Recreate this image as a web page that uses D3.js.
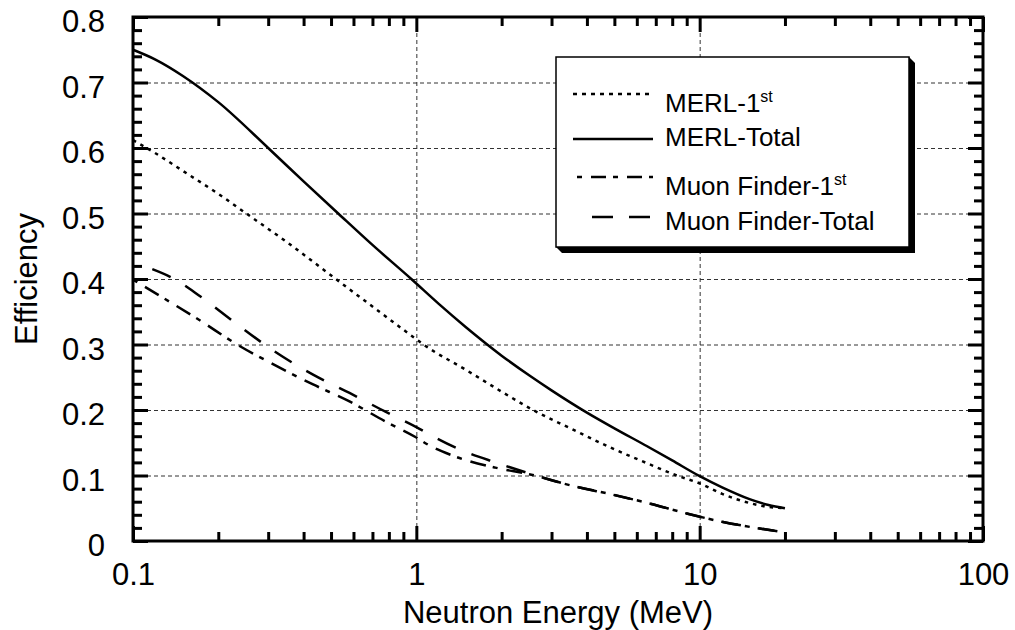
<!DOCTYPE html>
<html>
<head>
<meta charset="utf-8">
<script src="https://cdn.jsdelivr.net/npm/d3@7"></script>
<style>
    body { margin: 0; background: #fff; }
    text { font-family: "Liberation Sans", Arial, Helvetica, sans-serif; fill: #000; }
</style>
</head>
<body>
<div id="chart"></div>
<script>
// tick labels
var xTickValues = [0.1, 1, 10, 100];
var xTickLabels = ["0.1", "1", "10", "100"];
var yTickValues = [0, 0.1, 0.2, 0.3, 0.4, 0.5, 0.6, 0.7, 0.8];
var yTickLabels = ["0", "0.1", "0.2", "0.3", "0.4", "0.5", "0.6", "0.7", "0.8"];

// series (energy in MeV, efficiency)
var merlFirstEnergy = [0.1, 0.12, 0.15, 0.2, 0.251, 0.35, 0.52, 0.7, 1.0, 1.06, 1.5, 2.0, 2.58, 3.5, 5, 6.5, 8.3, 10, 12, 15, 17.5, 20];
var merlFirstEff    = [0.612, 0.592, 0.565, 0.530, 0.500, 0.456, 0.400, 0.358, 0.308, 0.300, 0.261, 0.228, 0.200, 0.172, 0.140, 0.119, 0.100, 0.088, 0.072, 0.058, 0.052, 0.050];

var merlTotalEnergy = [0.1, 0.12, 0.15, 0.2, 0.3, 0.4, 0.53, 0.7, 0.96, 1.2, 1.5, 2.0, 2.5, 3.0, 4.0, 5.0, 6.5, 8.0, 10, 12, 15, 17.5, 20];
var merlTotalEff    = [0.750, 0.735, 0.710, 0.670, 0.600, 0.549, 0.500, 0.452, 0.400, 0.362, 0.326, 0.283, 0.253, 0.230, 0.196, 0.172, 0.145, 0.123, 0.099, 0.082, 0.064, 0.055, 0.050];

var muonFirstEnergy = [0.1, 0.128, 0.172, 0.231, 0.312, 0.432, 0.581, 0.781, 1.0, 1.11, 1.35, 1.9, 2.5, 3.5, 4.9, 6.7, 9.0, 12.1, 15.8, 19.4];
var muonFirstEff    = [0.399, 0.371, 0.337, 0.301, 0.270, 0.239, 0.213, 0.182, 0.158, 0.146, 0.130, 0.112, 0.102, 0.085, 0.071, 0.057, 0.042, 0.029, 0.020, 0.014];

var muonTotalEnergy = [0.117, 0.14, 0.172, 0.231, 0.312, 0.432, 0.581, 0.781, 1.0, 1.11, 1.42, 1.9, 2.6, 3.5, 4.9, 6.7, 9.0, 12.1, 15.8, 19.4];
var muonTotalEff    = [0.415, 0.400, 0.374, 0.332, 0.291, 0.254, 0.226, 0.197, 0.174, 0.163, 0.140, 0.120, 0.101, 0.085, 0.071, 0.057, 0.042, 0.029, 0.020, 0.014];

var legendNames = ["MERL-1", "MERL-Total", "Muon Finder-1", "Muon Finder-Total"];
var legendSups = ["st", "", "st", ""];

var margin = { top: 17, left: 133 };
var width = 850, height = 524;

var svg = d3.select("#chart").append("svg")
    .attr("width", 1015)
    .attr("height", 630);

var chartGroup = svg.append("g")
    .attr("transform", `translate(${margin.left}, ${margin.top})`);

var xScale = d3.scaleLog().domain([0.1, 100]).range([0, width]);
var yScale = d3.scaleLinear().domain([0, 0.8]).range([height, 0]);

// minor tick values
var xMinor = [];
[0.1, 1, 10].forEach(function (d) {
    for (var k = 2; k <= 9; k++) xMinor.push(+(d * k).toFixed(3));
});
var yMinor = d3.range(0, 41).map(function (i) { return i * 0.02; })
    .filter(function (v, i) { return i % 5 !== 0; });

// grid lines
var gridY = chartGroup.append("g")
    .call(d3.axisLeft(yScale).tickValues(yTickValues.slice(1, 8)).tickSize(-width).tickFormat(""));
var gridX = chartGroup.append("g")
    .attr("transform", `translate(0, ${height})`)
    .call(d3.axisBottom(xScale).tickValues([1, 10]).tickSize(-height).tickFormat(""));
[gridX, gridY].forEach(function (g) {
    g.select(".domain").remove();
    g.selectAll("line")
        .attr("stroke", "#333")
        .attr("stroke-width", 1)
        .attr("stroke-dasharray", "4,3");
});

// curves
var series = [
    { e: merlFirstEnergy, v: merlFirstEff, dash: "3.5,5" },
    { e: merlTotalEnergy, v: merlTotalEff, dash: null },
    { e: muonFirstEnergy, v: muonFirstEff, dash: "5,9,16,7" },
    { e: muonTotalEnergy, v: muonTotalEff, dash: "20,17" }
];

var line = d3.line()
    .x(d => xScale(d[0]))
    .y(d => yScale(d[1]))
    .curve(d3.curveMonotoneX);

series.forEach(function (s) {
    var pts = s.e.map(function (e, i) { return [e, s.v[i]]; });
    chartGroup.append("path")
        .datum(pts)
        .attr("d", line)
        .attr("fill", "none")
        .attr("stroke", "#000")
        .attr("stroke-width", 2.5)
        .attr("stroke-dasharray", s.dash);
});

// legend box with shadow
var lg = { x: 556, y: 57, w: 353, h: 190, off: 6 };
svg.append("path")
    .attr("d", `M${lg.x + lg.w},${lg.y} L${lg.x + lg.w + lg.off},${lg.y + lg.off} L${lg.x + lg.w + lg.off},${lg.y + lg.h + lg.off} L${lg.x + lg.off},${lg.y + lg.h + lg.off} L${lg.x},${lg.y + lg.h} Z`)
    .attr("fill", "#000");
svg.append("rect")
    .attr("x", lg.x).attr("y", lg.y)
    .attr("width", lg.w).attr("height", lg.h)
    .attr("fill", "#fff")
    .attr("stroke", "#000")
    .attr("stroke-width", 1.5);

var legendLineY = [94, 139, 177, 217];
var legendLineX0 = [573, 573, 577, 592];
var legendDash = ["4,5", null, "5,9,15,7", "21,16"];
var legendTextY = [112, 146, 195, 230];

legendNames.forEach(function (name, i) {
    svg.append("line")
        .attr("x1", legendLineX0[i]).attr("x2", 653)
        .attr("y1", legendLineY[i]).attr("y2", legendLineY[i])
        .attr("stroke", "#000")
        .attr("stroke-width", 2.5)
        .attr("stroke-dasharray", legendDash[i]);
    var t = svg.append("text")
        .attr("x", 665)
        .attr("y", legendTextY[i])
        .style("font-size", "26px")
        .text(name);
    if (legendSups[i]) {
        t.append("tspan")
            .attr("dy", -10)
            .style("font-size", "16px")
            .text(legendSups[i]);
    }
});

// axes: ticks point inward, on all four sides
function styleAxis(g, w) {
    g.select(".domain").remove();
    g.selectAll("line").attr("stroke", "#000").attr("stroke-width", w);
    g.selectAll("text").style("font-size", "31px").attr("fill", "#000");
}

var yAxis = chartGroup.append("g")
    .call(d3.axisLeft(yScale).tickValues(yTickValues).tickSize(-15).tickPadding(28)
        .tickFormat((d, i) => yTickLabels[i]));
styleAxis(yAxis, 3);
yAxis.selectAll("text").attr("dy", "0.47em");

var yAxisMinor = chartGroup.append("g")
    .call(d3.axisLeft(yScale).tickValues(yMinor).tickSize(-9).tickFormat(""));
styleAxis(yAxisMinor, 3);

var yAxisR = chartGroup.append("g")
    .attr("transform", `translate(${width}, 0)`)
    .call(d3.axisRight(yScale).tickValues(yTickValues).tickSize(-15).tickFormat(""));
styleAxis(yAxisR, 3);
var yAxisRMinor = chartGroup.append("g")
    .attr("transform", `translate(${width}, 0)`)
    .call(d3.axisRight(yScale).tickValues(yMinor).tickSize(-9).tickFormat(""));
styleAxis(yAxisRMinor, 3);

var xAxis = chartGroup.append("g")
    .attr("transform", `translate(0, ${height})`)
    .call(d3.axisBottom(xScale).tickValues(xTickValues).tickSize(-15).tickPadding(22)
        .tickFormat((d, i) => xTickLabels[i]));
styleAxis(xAxis, 3);

var xAxisMinor = chartGroup.append("g")
    .attr("transform", `translate(0, ${height})`)
    .call(d3.axisBottom(xScale).tickValues(xMinor).tickSize(-9).tickFormat(""));
styleAxis(xAxisMinor, 3);

var xAxisTop = chartGroup.append("g")
    .call(d3.axisTop(xScale).tickValues(xTickValues).tickSize(-15).tickFormat(""));
styleAxis(xAxisTop, 3);
var xAxisTopMinor = chartGroup.append("g")
    .call(d3.axisTop(xScale).tickValues(xMinor).tickSize(-9).tickFormat(""));
styleAxis(xAxisTopMinor, 3);

// frame
chartGroup.append("rect")
    .attr("width", width)
    .attr("height", height)
    .attr("fill", "none")
    .attr("stroke", "#000")
    .attr("stroke-width", 3);

// axis titles
svg.append("text")
    .attr("text-anchor", "middle")
    .attr("x", margin.left + width / 2)
    .attr("y", 623)
    .style("font-size", "31px")
    .text("Neutron Energy (MeV)");

svg.append("text")
    .attr("text-anchor", "middle")
    .attr("transform", `translate(37, ${margin.top + height / 2}) rotate(-90)`)
    .style("font-size", "31px")
    .text("Efficiency");
</script>
</body>
</html>
